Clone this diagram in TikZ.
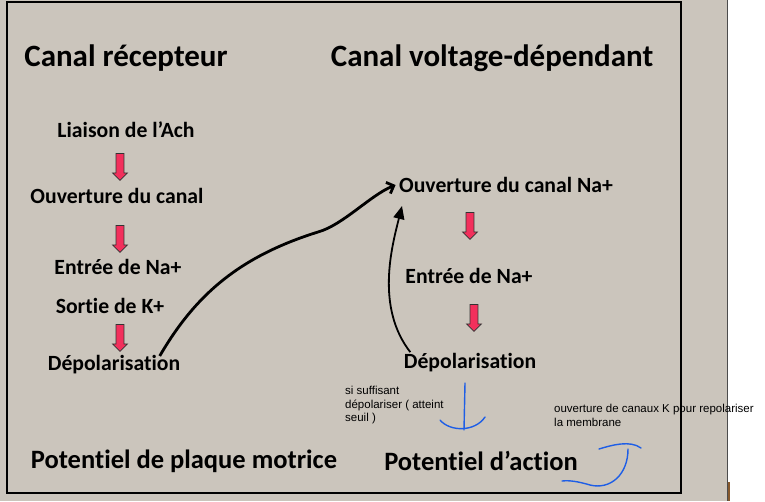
\documentclass[tikz,border=0pt]{standalone}
\usepackage{fontspec}
\setmainfont[Ligatures=NoCommon]{Carlito}
\newfontfamily\notefont{Liberation Sans}
\usetikzlibrary{shapes.arrows,arrows.meta}
\definecolor{slidegray}{HTML}{CBC5BC}
\definecolor{downred}{HTML}{F2305C}
\definecolor{penblue}{HTML}{1E5EE6}
\tikzset{
  title/.style={font=\bfseries\fontsize{31}{34}\selectfont},
  subtitle/.style={font=\bfseries\fontsize{26.5}{30}\selectfont},
  step label/.style={font=\bfseries\fontsize{21.7}{25}\selectfont},
  note/.style={font=\notefont\fontsize{11.5}{13.5}\selectfont, align=left, anchor=north west, inner sep=0pt},
  downarrow/.style={single arrow, draw=black!80, fill=downred, line width=0.7pt,
    shape border rotate=270, minimum height=27pt, minimum width=15pt,
    inner sep=3.5pt, single arrow head extend=3.5pt},
  pen/.style={penblue, line width=1.4pt, line cap=round},
}
\begin{document}
\begin{tikzpicture}[x=1pt,y=-1pt]
        \useasboundingbox (0,0) rectangle (765,501);
        \fill [slidegray] (0,0) rectangle (727,501);
        \draw [black!70, line width=0.8pt] (727,0) -- (727,501);
        \fill [brown!70!black] (727.5,482) rectangle (730,501);
        \draw [line width=2.2pt] (7,2) rectangle (681,493);
        % columns
        \node [title] (recep) at (126,58) {Canal récepteur};
        \node [title] (volt) at (492,58) {Canal voltage-dépendant};
        \node [step label] (liaison) at (126,130) {Liaison de l’Ach};
        \node [step label] (ouv) at (117,196) {Ouverture du canal};
        \node [step label] (entree) at (118,267) {Entrée de Na+};
        \node [step label] (sortie) at (110,306) {Sortie de K+};
        \node [step label] (depol) at (114,365) {Dépolarisation};
        \node [step label] (ouvna) at (506,185) {Ouverture du canal Na+};
        \node [step label] (entreena) at (469,276) {Entrée de Na+};
        \node [step label] (depolb) at (470,363) {Dépolarisation};
        \node [subtitle] (plaque) at (184,461) {Potentiel de plaque motrice};
        \node [subtitle] (action) at (481,461) {Potentiel d’action};
        \node [downarrow] (r1) at (120,165) {};
        \node [downarrow] (r2) at (120,237) {};
        \node [downarrow] (r3) at (120,336) {};
        \node [downarrow] (r4) at (470,224) {};
        \node [downarrow] (r5) at (474,316) {};
        % links
        \draw [line width=2.8pt, -{Straight Barb[length=6pt,width=12pt]}]
          (depol.east) ++(-24,-9) .. controls +(35,-60) and +(-80,25) .. (318,232)
          .. controls +(25,-7) and +(-25,10) .. (ouvna.west);
        \draw [line width=1.8pt, -{Triangle[length=13pt,width=11pt]}]
          (depolb.north west) ++(10,2) .. controls +(-35,-45) and +(-10,40) .. (402,206);
        % notes
        \node [note] (seuil) at (345,386) {si suffisant\\dépolariser ( atteint\\seuil )};
        \node [note] (repol) at (554,404) {ouverture de canaux K pour repolariser\\la membrane};
        \draw [pen] (465,383) -- (464,430);
        \draw [pen] (440,420) .. controls (450,432) and (475,432) .. (485,417);
        \draw [pen] (599,449) .. controls (612,445) and (630,440) .. (641,448);
        \draw [pen] (628,449) .. controls (628,475) and (610,490) .. (590,485)
          .. controls (580,482) and (570,480) .. (562,481);
      \end{tikzpicture}
\end{document}
